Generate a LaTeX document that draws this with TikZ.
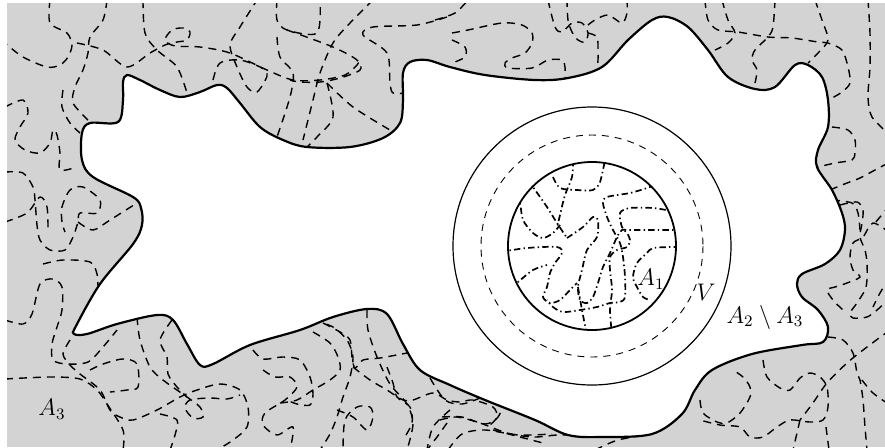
\documentclass[tikz,border=0pt]{standalone}
\definecolor{bg}{RGB}{211,211,211}
\tikzset{
  dline/.style={line width=0.7pt, dash pattern=on 4pt off 3pt},
  blobline/.style={line width=1.1pt, fill=white},
  ddline/.style={line width=0.85pt, dash pattern=on 3.2pt off 1.6pt on 0.7pt off 1.6pt},
  lbl/.style={inner sep=0pt, font=\large},
}
\begin{document}
\begin{tikzpicture}[x=0.5pt,y=-0.5pt]
\useasboundingbox (0,0) rectangle (885,447);
\fill[bg] (7,3) rectangle (885,447);
\begin{scope}
\clip (7,3) rectangle (885,447);
\draw[dline] plot[smooth] coordinates {(50,0) (50,23) (67,33) (72,45) (68,57) (60,65) (47,67) (23,57) (5,43)};
\draw[dline] plot[smooth] coordinates {(107,0) (103,20) (90,37) (88,53) (83,70) (75,87) (73,103) (88,120)};
\draw[dline] plot[smooth] coordinates {(77,43) (103,50) (127,67) (150,53) (165,45) (177,42) (187,40) (190,32) (183,28) (172,30) (165,40) (175,46) (200,47) (230,53) (267,70) (293,80) (320,80) (345,75) (357,65) (360,60)};
\draw[dline] plot[smooth] coordinates {(143,0) (145,33) (157,50) (177,67) (187,93)};
\draw[dline] plot[smooth] coordinates {(213,80) (220,63) (240,60) (262,68) (267,76) (257,92) (247,87) (237,67) (230,45) (240,27) (257,0)};
\draw[dline] plot[smooth] coordinates {(277,0) (277,20) (287,30) (317,33) (320,0)};
\draw[dline] plot[smooth] coordinates {(287,30) (333,47) (357,60) (360,70) (340,78) (320,82) (300,82) (290,80)};
\draw[dline] plot[smooth] coordinates {(373,0) (350,23) (333,43) (320,73) (313,100) (303,140)};
\draw[dline] plot[smooth] coordinates {(277,37) (280,57) (293,73) (290,97) (277,137)};
\draw[dline] plot[smooth] coordinates {(327,83) (333,117) (317,137) (307,147)};
\draw[dline] plot[smooth] coordinates {(327,83) (353,107) (390,130)};
\draw[dline] plot[smooth] coordinates {(447,17) (417,25) (373,27) (363,35) (387,53) (390,83) (393,93) (405,93)};
\draw[dline] plot[smooth] coordinates {(5,107) (23,100) (28,113) (20,127) (15,140) (25,150) (40,153) (50,143) (53,130) (57,135) (60,153) (60,170) (77,167)};
\draw[dline] plot[smooth] coordinates {(63,90) (62,107) (70,123) (80,133)};
\draw[dline] plot[smooth] coordinates {(5,172) (23,173) (33,187) (35,200) (37,225) (40,240) (50,250) (65,250) (73,237) (78,222) (80,213) (97,213) (100,200) (83,187) (70,190) (62,207) (62,222) (65,232)};
\draw[dline] plot[smooth] coordinates {(5,222) (27,213) (40,197) (47,207) (48,230)};
\draw[dline] plot[smooth] coordinates {(78,222) (93,230) (110,220) (137,203)};
\draw[dline] plot[smooth] coordinates {(43,264) (63,260) (90,262) (97,274) (98,290)};
\draw[dline] plot[smooth] coordinates {(5,320) (23,324) (32,314) (40,284) (53,279) (62,287) (62,310) (57,327) (52,344) (53,360) (67,364) (88,362) (103,347) (117,330)};
\draw[dline] plot[smooth] coordinates {(70,340) (63,354) (70,365) (80,374) (100,390) (110,410) (120,417) (133,420) (157,410) (180,397) (197,390) (220,384) (240,390) (248,407) (247,427) (233,440) (217,450)};
\draw[dline] plot[smooth] coordinates {(5,379) (50,377) (80,379) (97,390) (107,404) (123,430) (123,450)};
\draw[dline] plot[smooth] coordinates {(90,370) (103,364) (123,359) (137,364) (138,387) (127,390) (110,392)};
\draw[dline] plot[smooth] coordinates {(137,317) (140,340) (150,367) (163,380) (187,397) (200,407) (203,417) (193,418) (185,408) (190,400) (210,398) (227,399) (240,395)};
\draw[dline] plot[smooth] coordinates {(172,320) (160,340) (167,357) (168,374) (177,387) (187,397)};
\draw[dline] plot[smooth] coordinates {(160,414) (177,420) (175,435) (170,450)};
\draw[dline] plot[smooth] coordinates {(253,350) (263,359) (283,357) (300,360) (310,377) (313,394) (310,405) (297,404) (287,400)};
\draw[dline] plot[smooth] coordinates {(263,370) (275,377) (290,377) (297,387) (285,400) (265,413) (263,425) (277,435) (293,427) (290,450)};
\draw[dline] plot[smooth] coordinates {(313,320) (333,327) (347,340) (353,357) (350,377) (343,397) (337,417) (330,434) (320,450)};
\draw[dline] plot[smooth] coordinates {(367,310) (368,330) (377,357) (390,384) (407,404) (413,424) (407,450)};
\draw[dline] plot[smooth] coordinates {(337,410) (353,417) (367,430) (373,417) (370,407) (357,407) (345,420) (343,450)};
\draw[dline] plot[smooth] coordinates {(353,367) (370,380) (387,390) (403,400) (413,400) (433,393) (447,400) (460,402) (473,400) (493,407) (497,417) (490,425)};
\draw[dline] plot[smooth] coordinates {(450,410) (433,427) (427,450)};
\draw[dline] plot[smooth] coordinates {(313,332) (330,343) (338,357) (340,370) (330,380) (313,390) (297,400) (280,403)};
\draw[dline] plot[smooth] coordinates {(323,323) (340,332) (350,340) (352,357) (355,368) (363,360) (380,358) (407,353)};
\draw[dline] plot[smooth] coordinates {(387,367) (393,383) (397,397) (410,407) (412,423) (403,440)};
\draw[dline] plot[smooth] coordinates {(440,420) (457,417) (480,423) (507,433) (533,437) (557,435) (575,435)};
\draw[dline] plot[smooth] coordinates {(447,423) (437,437) (427,450)};
\draw[dline] plot[smooth] coordinates {(493,430) (520,437) (543,443)};
\draw[dline] plot[smooth] coordinates {(430,378) (445,400) (462,404) (480,398)};
\draw[dline] plot[smooth] coordinates {(442,417) (462,417) (485,424) (498,417) (505,400)};
\draw[dline] plot[smooth] coordinates {(448,450) (462,434) (485,430) (518,435) (552,434)};
\draw[dline] plot[smooth] coordinates {(595,450) (618,440) (652,434)};
\draw[dline] plot[smooth] coordinates {(700,400) (703,413) (717,422) (727,423) (740,413) (750,397) (750,387) (743,377) (733,370)};
\draw[dline] plot[smooth] coordinates {(763,360) (767,377) (780,388) (790,390) (800,378) (810,373) (820,377) (827,387) (828,407) (823,420) (810,422) (790,420) (777,427) (763,437) (750,437) (740,427) (720,425) (700,420)};
\draw[dline] plot[smooth] coordinates {(800,420) (797,433) (793,450)};
\draw[dline] plot[smooth] coordinates {(826,427) (829,450)};
\draw[dline] plot[smooth] coordinates {(828,337) (843,340) (853,353) (857,373) (860,380) (863,400) (865,427) (867,450)};
\draw[dline] plot[smooth] coordinates {(890,330) (867,347) (847,363) (827,383) (815,400) (810,407) (800,420)};
\draw[dline] plot[smooth] coordinates {(862,380) (873,393) (890,405)};
\draw[dline] plot[smooth] coordinates {(830,190) (837,187) (847,183) (860,178) (875,170) (890,162)};
\draw[dline] plot[smooth] coordinates {(840,205) (857,202) (863,210) (862,223) (860,237) (865,250) (867,263) (867,280) (865,290) (857,303) (850,313) (853,318) (867,317) (877,310) (890,298)};
\draw[dline] plot[smooth] coordinates {(890,233) (873,223) (863,237) (853,243) (850,257) (853,270) (860,277) (847,283) (835,287) (827,290) (833,300) (843,310) (847,313)};
\draw[dline] plot[smooth] coordinates {(890,277) (880,293) (873,307)};
\draw[dline] plot[smooth] coordinates {(832,200) (852,203) (858,213) (860,230)};
\draw[dline] plot[smooth] coordinates {(890,205) (875,223)};
\draw[dline] plot[smooth] coordinates {(832,127) (848,130) (855,140) (855,153) (852,160) (835,163) (818,167)};
\draw[dline] plot[smooth] coordinates {(868,0) (870,33) (870,67) (868,97) (872,117) (890,135)};
\draw[dline] plot[smooth] coordinates {(815,0) (822,20) (828,40) (818,53) (808,63)};
\draw[dline] plot[smooth] coordinates {(775,0) (773,27) (768,37) (755,50) (752,60) (757,70) (755,83)};
\draw[dline] plot[smooth] coordinates {(722,0) (728,20) (735,33) (728,43) (715,50)};
\draw[dline] plot[smooth] coordinates {(705,0) (708,20) (718,30) (738,32) (768,37) (792,38) (818,42) (828,43) (842,50) (848,67) (850,83) (842,92) (832,98)};
\draw[dline] plot[smooth] coordinates {(435,20) (455,13) (468,0)};
\draw[dline] plot[smooth] coordinates {(452,33) (468,30) (502,23) (522,25) (532,33) (532,43) (525,53) (512,58) (505,63) (508,68) (532,68) (548,60) (562,60) (565,67) (565,78)};
\draw[dline] plot[smooth] coordinates {(452,40) (465,47) (465,57) (452,63)};
\draw[dline] plot[smooth] coordinates {(548,0) (555,27) (562,32) (572,23) (582,23) (588,33) (585,42) (578,40) (572,32) (568,20) (567,0)};
\draw[dline] plot[smooth] coordinates {(588,25) (595,20) (608,15) (622,23) (627,13) (627,0)};
\draw[dline] plot[smooth] coordinates {(588,33) (597,37) (598,50) (598,60) (597,70)};
\end{scope}
% the region A_2 \ A_3
\draw[blobline] plot[smooth cycle, tension=0.55] coordinates {
 (90,123) (118,122) (123,100) (123,82) (127,75) (140,80) (160,90) (180,97) (200,92) (217,85) (227,88) (240,103)
 (260,127) (283,140) (307,147) (350,147) (383,138) (400,123) (403,100) (403,73) (410,62) (427,60) (450,67)
 (485,75) (535,80) (568,78) (602,67) (628,40) (652,20) (668,17) (688,27) (708,50) (728,77) (755,89) (775,87)
 (795,65) (808,65) (822,77) (828,100) (828,127) (818,150) (817,167) (832,190) (842,213) (845,230) (840,250)
 (825,264) (802,274) (797,284) (802,297) (818,310) (828,327) (823,342) (802,345) (752,354) (712,370) (695,390)
 (682,414) (652,434) (602,437) (568,435) (535,420) (485,400) (450,385) (420,370) (403,344) (387,314) (367,309)
 (333,317) (300,330) (250,345) (213,364) (200,365) (187,344) (173,320) (157,315) (117,324) (87,334) (74,334)
 (76,326) (100,284) (133,244) (142,225) (141,208) (133,197) (93,177) (82,160) (82,133)};
% circles
\coordinate (c) at (592,246);
\draw[line width=0.6pt] (c) circle[radius=139];
\draw[line width=0.45pt, dash pattern=on 3.5pt off 3pt] (c) circle[radius=111];
\begin{scope}
\clip (c) circle[radius=84];
\draw[ddline] plot[smooth] coordinates {(553,177) (560,188) (577,190) (593,190) (600,182) (605,160)};
\draw[ddline] plot[smooth] coordinates {(573,160) (572,177) (565,195) (560,215) (557,228)};
\draw[ddline] plot[smooth] coordinates {(528,180) (533,187) (547,207) (557,223) (567,238)};
\draw[ddline] plot[smooth] coordinates {(515,195) (520,203) (523,220) (533,233) (543,238) (553,233) (560,225)};
\draw[ddline] plot[smooth] coordinates {(567,238) (583,227) (593,217) (598,220) (597,237) (587,250) (582,270) (578,287) (580,300) (587,303) (593,297) (598,283) (603,267) (610,253) (617,237) (622,230) (630,230) (680,230)};
\draw[ddline] plot[smooth] coordinates {(500,252) (527,248) (557,247) (562,253) (555,263) (550,273) (547,287) (543,297) (550,303) (560,300) (570,290) (577,283)};
\draw[ddline] plot[smooth] coordinates {(510,288) (518,282) (533,270) (547,265)};
\draw[ddline] plot[smooth] coordinates {(655,185) (647,188) (630,193) (607,197) (603,203) (607,217) (613,230) (620,243) (623,257) (625,277) (625,297) (620,302) (610,303) (597,307) (580,310) (563,312) (553,307) (547,300)};
\draw[ddline] plot[smooth] coordinates {(680,210) (667,210) (653,208) (630,208) (620,213) (622,227) (627,233) (630,240) (627,247) (617,250) (610,257) (610,270) (612,290) (610,310) (612,335)};
\draw[ddline] plot[smooth] coordinates {(680,247) (673,247) (653,248) (647,253) (637,263) (633,277) (637,287) (643,297) (650,300)};
\draw[ddline] plot[smooth] coordinates {(578,287) (582,310) (587,335)};
\end{scope}
\draw[line width=0.9pt] (c) circle[radius=84];
% labels
\node[lbl] (a1) at (651,279) {$A_1$};
\node[lbl] (v) at (706,292) {$V$};
\node[lbl] (a23) at (765,317) {$A_2\setminus A_3$};
\node[lbl] (a3) at (52,409) {$A_3$};
\end{tikzpicture}
\end{document}
